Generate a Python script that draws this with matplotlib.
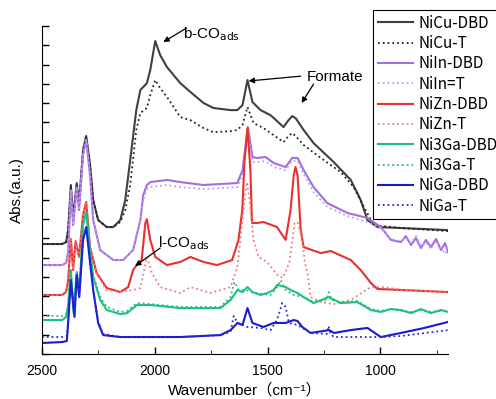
import numpy as np
import matplotlib
matplotlib.use('Agg')
import matplotlib.pyplot as plt
from matplotlib.ticker import MultipleLocator, NullFormatter

# 数据 (波数, 吸光度) 从图中读取
cu_dbd_wn = [2500, 2411, 2393, 2384, 2372, 2362, 2346, 2336, 2318, 2304, 2287, 2273, 2251, 2213, 2184, 2153, 2131, 2109, 2082, 2064,
             2035, 2020, 1998, 1976, 1946, 1887, 1842, 1784, 1740, 1664, 1634, 1611, 1589, 1567, 1531, 1487, 1429, 1407, 1391, 1376,
             1340, 1296, 1207, 1131, 1087, 1057, 1013, 909, 700]
cu_dbd_y = [57.0, 57.0, 58.0, 64.2, 87.6, 70.5, 88.6, 77.2, 105.7, 113.0, 97.9, 79.8, 69.4, 65.8, 65.8, 69.4, 79.8, 100.5, 126.4, 136.8,
            140.4, 147.2, 162.2, 154.9, 148.7, 140.4, 135.8, 130.1, 127.5, 126.4, 126.4, 129.0, 142.0, 130.6, 126.4, 123.8, 117.6, 121.2, 123.3, 122.3,
            116.1, 109.3, 99.5, 90.2, 79.8, 69.4, 65.8, 65.3, 64.2]

cu_t_wn = [2500, 2411, 2393, 2384, 2372, 2362, 2346, 2336, 2318, 2304, 2287, 2273, 2251, 2213, 2184, 2153, 2131, 2109, 2082, 2064,
           2035, 2020, 1998, 1976, 1946, 1887, 1842, 1784, 1740, 1664, 1634, 1611, 1589, 1562, 1518, 1429, 1407, 1391, 1376, 1340,
           1264, 1176, 1118, 1073, 1029, 909, 700]
cu_t_y = [57.0, 57.0, 58.0, 64.2, 87.0, 70.5, 88.1, 77.2, 105.7, 112.4, 97.9, 79.8, 69.4, 65.8, 65.8, 68.4, 74.6, 87.6, 116.1, 124.9,
          127.5, 134.2, 142.0, 137.8, 133.2, 122.8, 121.2, 117.1, 115.0, 115.5, 116.1, 118.7, 128.0, 119.7, 117.1, 109.8, 113.0, 114.5, 113.0, 108.3,
          101.6, 94.3, 86.5, 76.2, 66.8, 65.3, 63.7]

in_dbd_wn = [2500, 2411, 2393, 2384, 2372, 2362, 2346, 2336, 2318, 2304, 2287, 2273, 2242, 2184, 2140, 2096, 2064, 2051, 2035, 2020,
             1946, 1887, 1784, 1634, 1611, 1587, 1567, 1547, 1509, 1473, 1420, 1391, 1367, 1340, 1296, 1235, 1146, 1057, 998, 953,
             909, 887, 864, 842, 820, 798, 776, 753, 731, 713, 700]
in_dbd_y = [46.1, 46.1, 47.2, 52.8, 85.0, 66.8, 86.5, 74.6, 103.1, 110.9, 92.7, 69.4, 53.9, 48.7, 48.7, 53.9, 69.4, 82.4, 87.6, 89.1,
            90.2, 89.1, 87.6, 88.6, 95.3, 117.6, 102.1, 101.6, 102.1, 99.0, 96.9, 101.6, 101.6, 95.3, 86.5, 78.2, 73.1, 70.5, 65.8, 59.1,
            58.0, 61.1, 56.5, 60.1, 54.9, 59.1, 55.4, 59.6, 53.9, 57.5, 52.8]

in_t_wn = [2500, 2411, 2393, 2384, 2372, 2362, 2346, 2336, 2318, 2304, 2287, 2273, 2242, 2184, 2140, 2096, 2064, 2051, 2035, 2020,
           1946, 1887, 1784, 1634, 1611, 1587, 1567, 1547, 1509, 1473, 1420, 1391, 1367, 1340, 1296, 1235, 1146, 1057, 998, 953,
           909, 887, 864, 842, 820, 798, 776, 753, 731, 713, 700]
in_t_y = [46.1, 46.1, 47.2, 52.8, 85.0, 66.8, 86.5, 74.6, 103.1, 110.9, 92.7, 69.4, 53.9, 48.7, 48.7, 53.9, 69.4, 79.8, 85.5, 86.5,
          87.6, 86.5, 85.5, 86.5, 92.7, 114.5, 99.5, 99.5, 100.0, 96.9, 95.3, 100.0, 100.0, 93.3, 83.9, 76.2, 71.5, 68.4, 65.3, 59.6,
          58.5, 60.1, 57.5, 61.1, 56.0, 58.0, 54.4, 58.5, 54.9, 51.8, 56.0]

zn_dbd_wn = [2500, 2411, 2393, 2384, 2372, 2362, 2351, 2336, 2318, 2304, 2287, 2258, 2213, 2153, 2118, 2096, 2080, 2058, 2042, 2035,
             2020, 1998, 1946, 1887, 1842, 1784, 1724, 1657, 1629, 1612, 1602, 1589, 1576, 1569, 1547, 1518, 1458, 1420, 1398, 1384,
             1376, 1367, 1353, 1340, 1264, 1220, 1131, 1087, 1042, 1013, 909, 700]
zn_dbd_y = [30.6, 30.6, 32.1, 38.3, 59.6, 43.5, 58.5, 50.3, 72.0, 78.8, 55.4, 42.0, 34.2, 32.1, 34.7, 43.5, 46.1, 48.7, 67.9, 69.9,
            59.1, 50.3, 46.1, 47.7, 50.3, 47.7, 46.1, 48.7, 59.1, 74.6, 100.5, 117.1, 95.3, 67.9, 67.9, 68.4, 65.8, 59.1, 74.6, 92.7,
            96.9, 92.7, 64.2, 55.4, 52.3, 53.4, 48.7, 43.5, 36.8, 33.7, 33.2, 32.1]

zn_t_wn = [2500, 2411, 2393, 2384, 2372, 2362, 2351, 2336, 2318, 2304, 2287, 2258, 2216, 2153, 2096, 2064, 2047, 2035, 2013, 1976,
           1887, 1842, 1753, 1664, 1634, 1612, 1600, 1591, 1580, 1562, 1540, 1502, 1456, 1433, 1404, 1387, 1380, 1367, 1345, 1335,
           1322, 1309, 1264, 1207, 1131, 1042, 984, 909, 700]
zn_t_y = [30.6, 30.6, 32.1, 38.3, 59.6, 43.5, 58.5, 50.3, 72.0, 78.8, 55.4, 42.0, 33.2, 32.1, 33.2, 34.2, 43.5, 50.3, 42.0, 34.7,
          31.6, 34.7, 31.6, 34.7, 45.1, 67.9, 82.4, 89.1, 79.8, 59.1, 50.3, 47.7, 40.9, 39.4, 47.2, 61.7, 67.9, 68.4, 59.1, 47.7,
          40.9, 29.5, 26.9, 25.9, 28.0, 34.7, 34.7, 33.2, 32.1]

ga3_dbd_wn = [2500, 2411, 2393, 2384, 2372, 2360, 2346, 2334, 2318, 2304, 2287, 2273, 2242, 2213, 2153, 2123, 2079, 2020, 1887, 1709,
              1664, 1633, 1611, 1589, 1567, 1531, 1501, 1473, 1457, 1420, 1398, 1367, 1340, 1296, 1229, 1176, 1102, 1042, 998, 953,
              909, 864, 820, 776, 731, 700]
ga3_dbd_y = [17.6, 17.6, 19.2, 25.4, 43.5, 21.2, 42.5, 33.2, 66.8, 73.6, 53.9, 39.9, 28.0, 22.8, 20.7, 21.2, 25.4, 25.4, 23.8, 23.8,
             28.0, 33.2, 32.1, 34.7, 32.1, 30.6, 31.6, 33.2, 35.8, 34.7, 33.2, 31.6, 29.5, 26.4, 29.5, 26.4, 26.9, 22.8, 21.8, 23.3,
             22.8, 21.2, 23.3, 21.2, 22.8, 21.8]

ga3_t_wn = [2500, 2411, 2393, 2384, 2372, 2360, 2346, 2334, 2318, 2304, 2287, 2273, 2242, 2213, 2153, 2123, 2079, 2020, 1887, 1709,
            1664, 1647, 1629, 1598, 1553, 1487, 1460, 1442, 1420, 1384, 1340, 1296, 1238, 1229, 1216, 1176, 1102, 1042, 998, 953,
            909, 864, 820, 776, 731, 700]
ga3_t_y = [19.7, 19.7, 20.7, 26.4, 43.5, 22.8, 42.5, 34.2, 66.8, 73.6, 53.9, 40.9, 29.5, 24.4, 21.8, 22.3, 26.4, 25.9, 24.4, 24.4,
           29.5, 37.3, 33.2, 33.2, 31.6, 30.6, 34.2, 38.3, 33.2, 30.6, 29.5, 26.9, 28.0, 32.1, 28.0, 26.9, 27.5, 23.3, 22.3, 23.3,
           22.3, 21.8, 22.8, 21.8, 22.3, 22.3]

ga_dbd_wn = [2500, 2411, 2390, 2384, 2372, 2356, 2346, 2335, 2318, 2304, 2287, 2273, 2251, 2229, 2153, 1887, 1709, 1664, 1633, 1611,
             1589, 1567, 1518, 1473, 1442, 1420, 1384, 1367, 1346, 1309, 1227, 1205, 1131, 1057, 998, 909, 805, 700]
ga_dbd_y = [5.7, 6.2, 6.7, 16.1, 38.3, 19.2, 40.9, 29.5, 59.1, 65.8, 47.7, 33.2, 16.1, 9.8, 8.8, 8.8, 9.8, 12.4, 16.1, 15.0,
            23.8, 16.1, 14.0, 16.1, 16.1, 16.1, 17.6, 17.1, 14.0, 10.9, 12.4, 10.9, 12.4, 13.5, 8.8, 10.9, 13.5, 16.6]

ga_t_wn = [2500, 2411, 2390, 2384, 2372, 2356, 2346, 2335, 2318, 2304, 2287, 2273, 2251, 2229, 2153, 1887, 1709, 1664, 1650, 1633,
           1589, 1531, 1487, 1458, 1435, 1420, 1405, 1367, 1309, 1238, 1229, 1222, 1207, 1060, 998, 909, 700]
ga_t_y = [8.8, 8.8, 9.3, 17.1, 38.3, 19.7, 40.9, 29.5, 59.1, 65.8, 47.7, 33.2, 16.6, 10.4, 8.8, 8.8, 9.8, 11.4, 19.7, 16.1,
          14.0, 13.5, 12.4, 17.6, 26.4, 24.4, 16.1, 15.0, 10.9, 10.4, 14.5, 10.9, 8.8, 8.8, 8.8, 9.3, 12.4]

series = [
    ('NiCu-DBD', cu_dbd_wn, cu_dbd_y, '#404040', '-'),
    ('NiCu-T', cu_t_wn, cu_t_y, '#202020', ':'),
    ('NiIn-DBD', in_dbd_wn, in_dbd_y, '#a070e0', '-'),
    ('NiIn=T', in_t_wn, in_t_y, '#c59af0', ':'),
    ('NiZn-DBD', zn_dbd_wn, zn_dbd_y, '#e83030', '-'),
    ('NiZn-T', zn_t_wn, zn_t_y, '#f07a7a', ':'),
    ('Ni3Ga-DBD', ga3_dbd_wn, ga3_dbd_y, '#1fbf80', '-'),
    ('Ni3Ga-T', ga3_t_wn, ga3_t_y, '#1fbf80', ':'),
    ('NiGa-DBD', ga_dbd_wn, ga_dbd_y, '#1a1ad0', '-'),
    ('NiGa-T', ga_t_wn, ga_t_y, '#2a2ad8', ':'),
]

fig = plt.figure(figsize=(4.96, 3.99), dpi=100)
ax = fig.add_axes([42 / 496, 1 - 354 / 399, 406 / 496, 328 / 399])

for name, wn, y, c, ls in series:
    lw = 1.5 if ls == '-' else 1.3
    ax.plot(wn, y, color=c, ls=ls, lw=lw, label=name)

ax.set_xlim(2500, 700)
ax.set_ylim(0, 170)
ax.xaxis.set_major_locator(MultipleLocator(500))
ax.xaxis.set_minor_locator(MultipleLocator(250))
ax.yaxis.set_major_locator(MultipleLocator(10))
ax.yaxis.set_major_formatter(NullFormatter())
ax.tick_params(direction='in', length=5, width=1, labelsize=10, pad=7)
ax.tick_params(which='minor', direction='in', length=3)
for s in ['top', 'right']:
    ax.spines[s].set_visible(False)
for lab in ax.get_xticklabels():
    lab.set_fontfamily('Liberation Sans')

lab_font = ['Liberation Sans', 'Noto Sans CJK JP', 'DejaVu Sans']
ax.set_xlabel('Wavenumber（cm⁻¹）', family=lab_font, fontsize=11, labelpad=4)
ax.set_ylabel('Abs.(a.u.)', family=lab_font, fontsize=11, labelpad=6)

# 标注
arrow = dict(arrowstyle='-|>', color='black', lw=0.9, mutation_scale=8, shrinkA=0, shrinkB=0)
ax.annotate('', xy=(1962, 161.7), xytext=(1860, 168.9), arrowprops=arrow)
ax.text(1873, 165.8, 'b-CO$_{\\mathrm{ads}}$', family='Liberation Sans', fontsize=11, va='center')
ax.annotate('', xy=(1584, 141.5), xytext=(1353, 144.0), arrowprops=arrow)
ax.annotate('', xy=(1349, 130.1), xytext=(1296, 139.9), arrowprops=arrow)
ax.text(1327, 143.5, 'Formate', family='Liberation Sans', fontsize=11, va='center')
ax.annotate('', xy=(2087, 45.6), xytext=(1976, 54.9), arrowprops=arrow)
ax.text(1984, 57.5, 'l-CO$_{\\mathrm{ads}}$', family='Liberation Sans', fontsize=11, va='center')

leg = fig.legend(loc='upper left', bbox_to_anchor=(373 / 496, 1 - 10 / 399), fancybox=False,
                 edgecolor='black', framealpha=1, prop={'family': ['Noto Sans CJK JP', 'DejaVu Sans'], 'size': 11},
                 handlelength=2.3, handletextpad=0.35, labelspacing=0.22, borderpad=0.3, borderaxespad=0)
leg.get_frame().set_linewidth(0.8)

fig.savefig('out.png', dpi=100)
